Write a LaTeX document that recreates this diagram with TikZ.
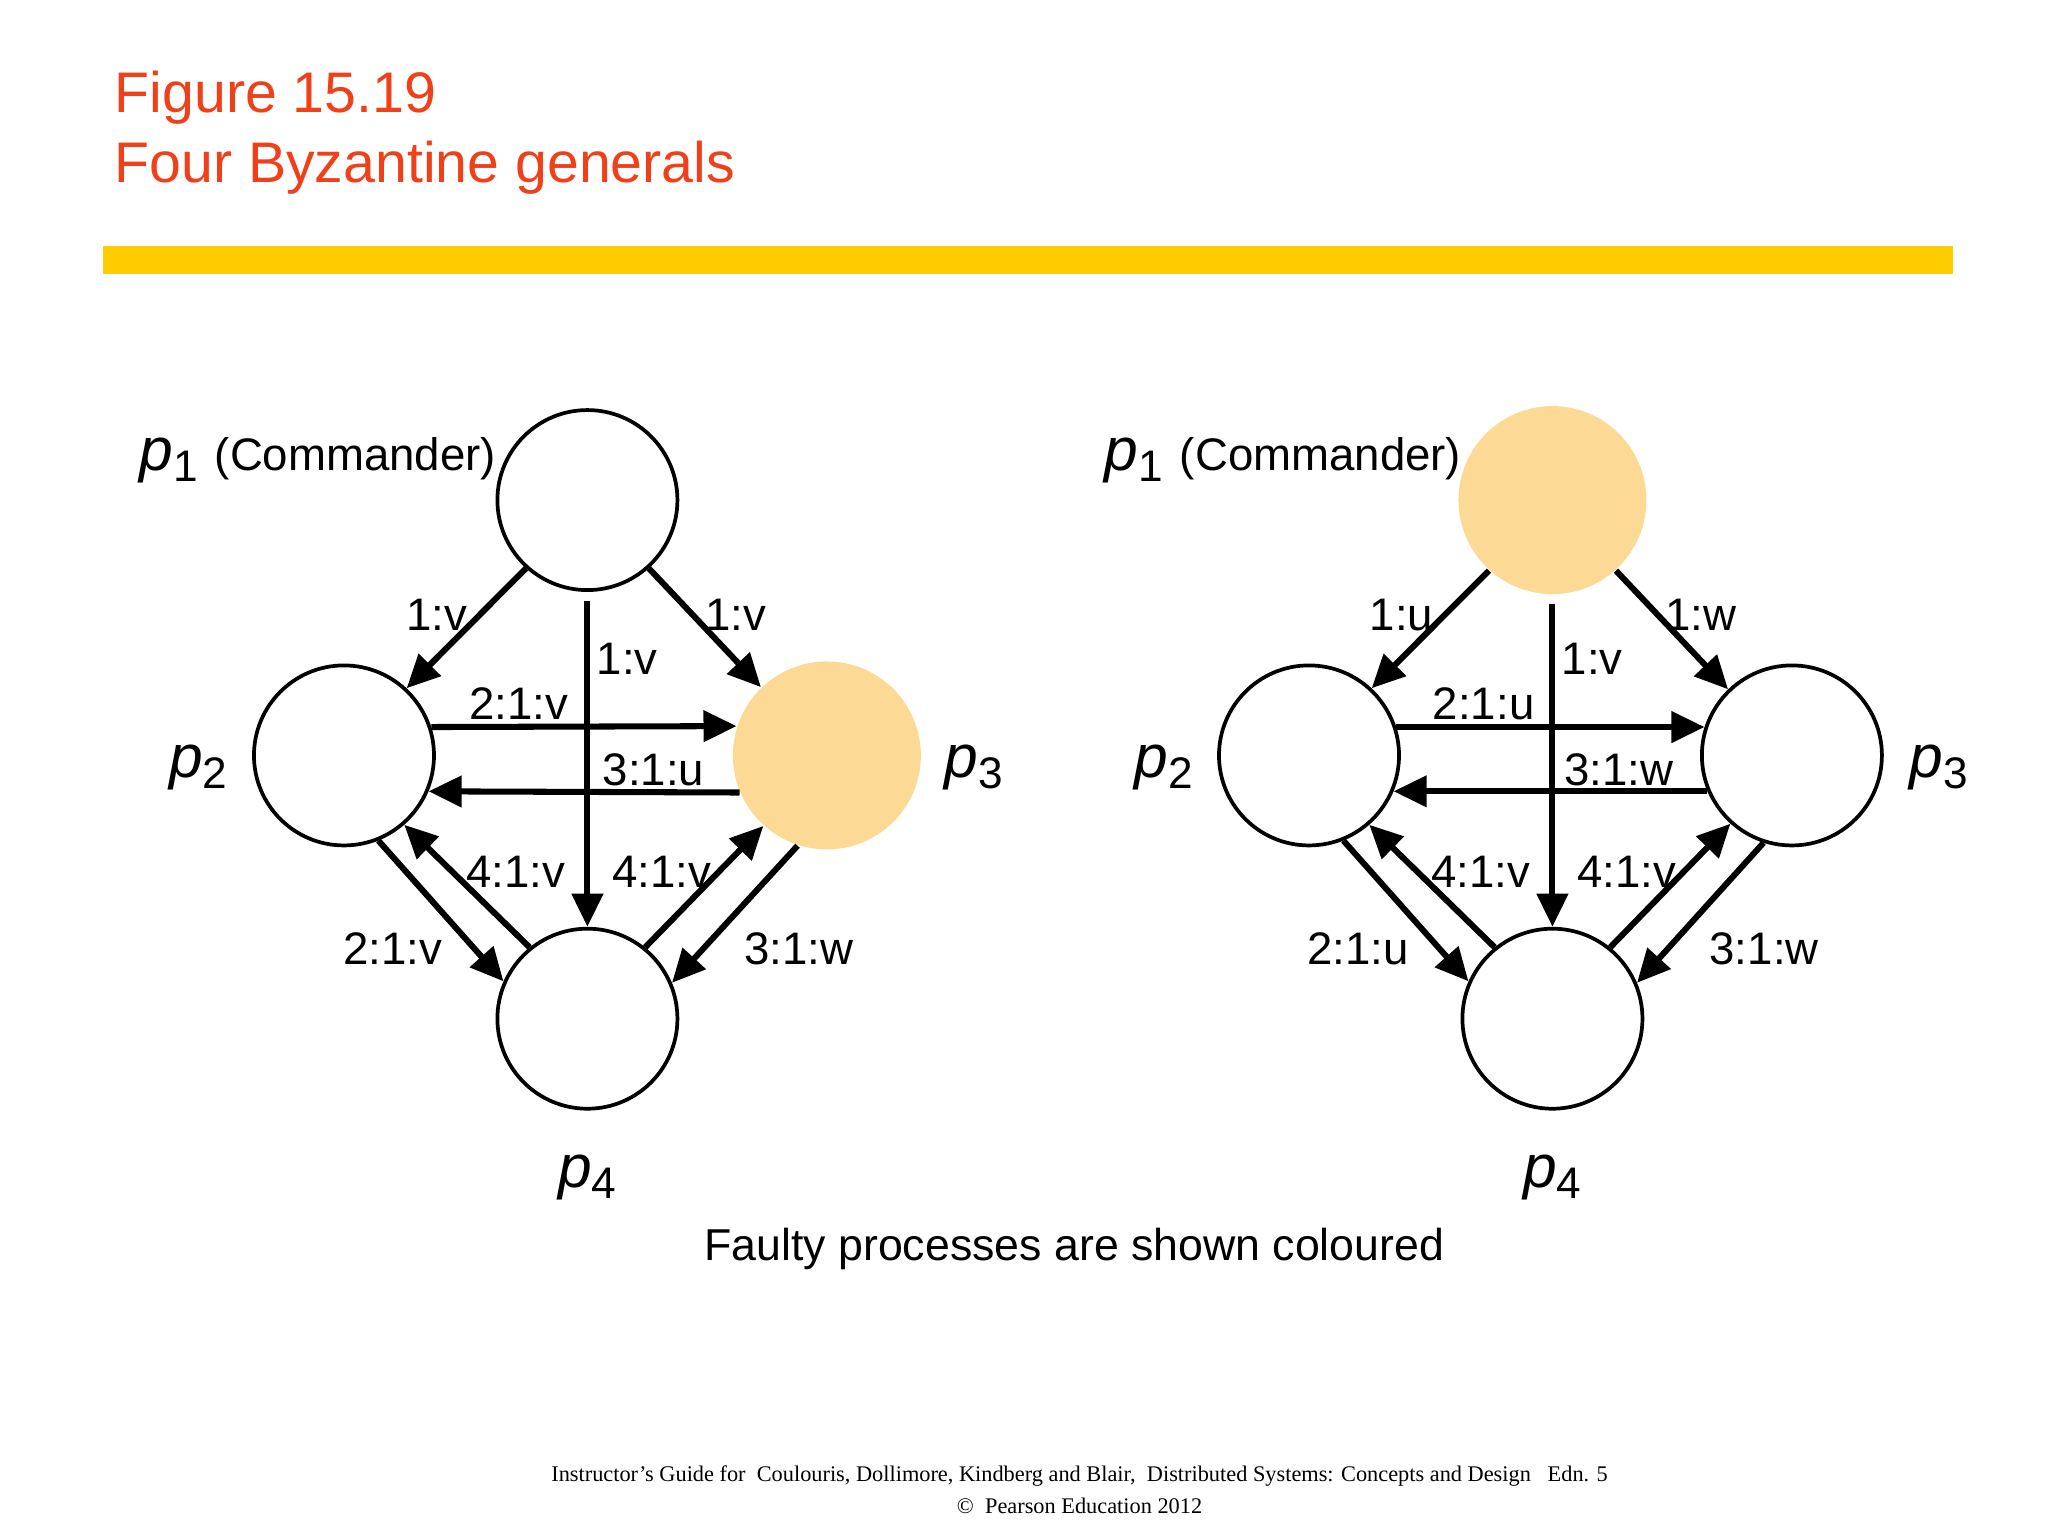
\documentclass[tikz,border=0pt]{standalone}
\usepackage{fontspec}
\setmainfont{Liberation Sans}
\newfontfamily\serifft{Liberation Serif}
\usetikzlibrary{arrows.meta}
\definecolor{titlered}{HTML}{F0401A}
\definecolor{baryellow}{HTML}{FFCC00}
\definecolor{faulty}{HTML}{FCD995}
\tikzset{
  proc/.style={circle,draw=black,line width=0.8pt,minimum size=1.36cm,inner sep=0pt},
  bad/.style={circle,fill=faulty,draw=none,minimum size=1.42cm,inner sep=0pt},
  msg/.style={line width=1.3pt,-{Triangle[length=0.25cm,width=0.23cm]}},
  lab/.style={font=\fontsize{9.8}{11}\selectfont,inner sep=0pt},
  plab/.style={font=\fontsize{13}{14}\selectfont,inner sep=0pt},
}
\newcommand{\pl}[1]{\textit{p}\raisebox{-0.35ex}{\fontsize{9.5}{10}\selectfont #1}}
\newcommand{\diagram}[9]{%
  \node[#1] (P1) at (444,378) {};
  \node[proc] (P2) at (260,571) {};
  \node[#2] (P3) at (625,571) {};
  \node[proc] (P4) at (444,770) {};
  \draw[msg] (P1.228) -- (P2.47);
  \draw[msg] (P1.312) -- (P3.134);
  \draw[msg] ([yshift=-0.07cm]P1.south) -- (P4.north);
  \draw[msg] (P2.18) -- (P3.162);
  \draw[msg] (P3.203) -- (P2.337);
  \draw[msg] (P2.292) -- (P4.156);
  \draw[msg] (P4.129) -- (P2.311);
  \draw[msg] (P4.51) -- (P3.228);
  \draw[msg] (P3.252) -- (P4.23);
  \node[lab] (l12) at (330,465) {#3};
  \node[lab] (l13) at (556,465) {#4};
  \node[lab] (l14) at (474,498) {#5};
  \node[lab] (l23) at (392,532) {#6};
  \node[lab] (l32) at (494,582) {#7};
  \node[lab] (l42) at (390,659) {4:1:v};
  \node[lab] (l43) at (500,659) {4:1:v};
  \node[lab] (l24) at (297,717) {#8};
  \node[lab] (l34) at (604,717) {#9};
  \node[plab,anchor=west] (t1) at (105,348) {\pl{1} {\fontsize{9.8}{11}\selectfont(Commander)}};
  \node[plab] (t2) at (150,580) {\pl{2}};
  \node[plab] (t3) at (736,580) {\pl{3}};
  \node[plab] (t4) at (444,890) {\pl{4}};
}
\begin{document}
\begin{tikzpicture}[x=0.01cm,y=-0.01cm]
\useasboundingbox (0,0) rectangle (1548,1161);
\node[anchor=base west,text=titlered,font=\fontsize{12.3}{14}\selectfont,inner sep=0pt] (ti1) at (86,85) {Figure 15.19};
\node[anchor=base west,text=titlered,font=\fontsize{12.3}{14}\selectfont,inner sep=0pt] (ti2) at (86,138) {Four Byzantine generals};
\fill[baryellow] (78,186) rectangle (1476,207);
\begin{scope}[name prefix=L-]
\diagram{proc}{bad}{1:v}{1:v}{1:v}{2:1:v}{3:1:u}{2:1:v}{3:1:w}
\end{scope}
\begin{scope}[name prefix=R-,xshift=7.29cm]
\diagram{bad}{proc}{1:u}{1:w}{1:v}{2:1:u}{3:1:w}{2:1:u}{3:1:w}
\end{scope}
\node[font=\fontsize{9.6}{11}\selectfont,inner sep=0pt] (cap) at (812,944) {Faulty processes are shown coloured};
\node[font=\serifft\fontsize{4.8}{6}\selectfont,inner sep=0pt,align=center] (foot) at (816,1126) {Instructor’s Guide for\ \ Coulouris, Dollimore, Kindberg and Blair,\ \ Distributed Systems: Concepts and Design\ \ \ Edn. 5\\[1pt] ©\ \ Pearson Education 2012};
\end{tikzpicture}
\end{document}
